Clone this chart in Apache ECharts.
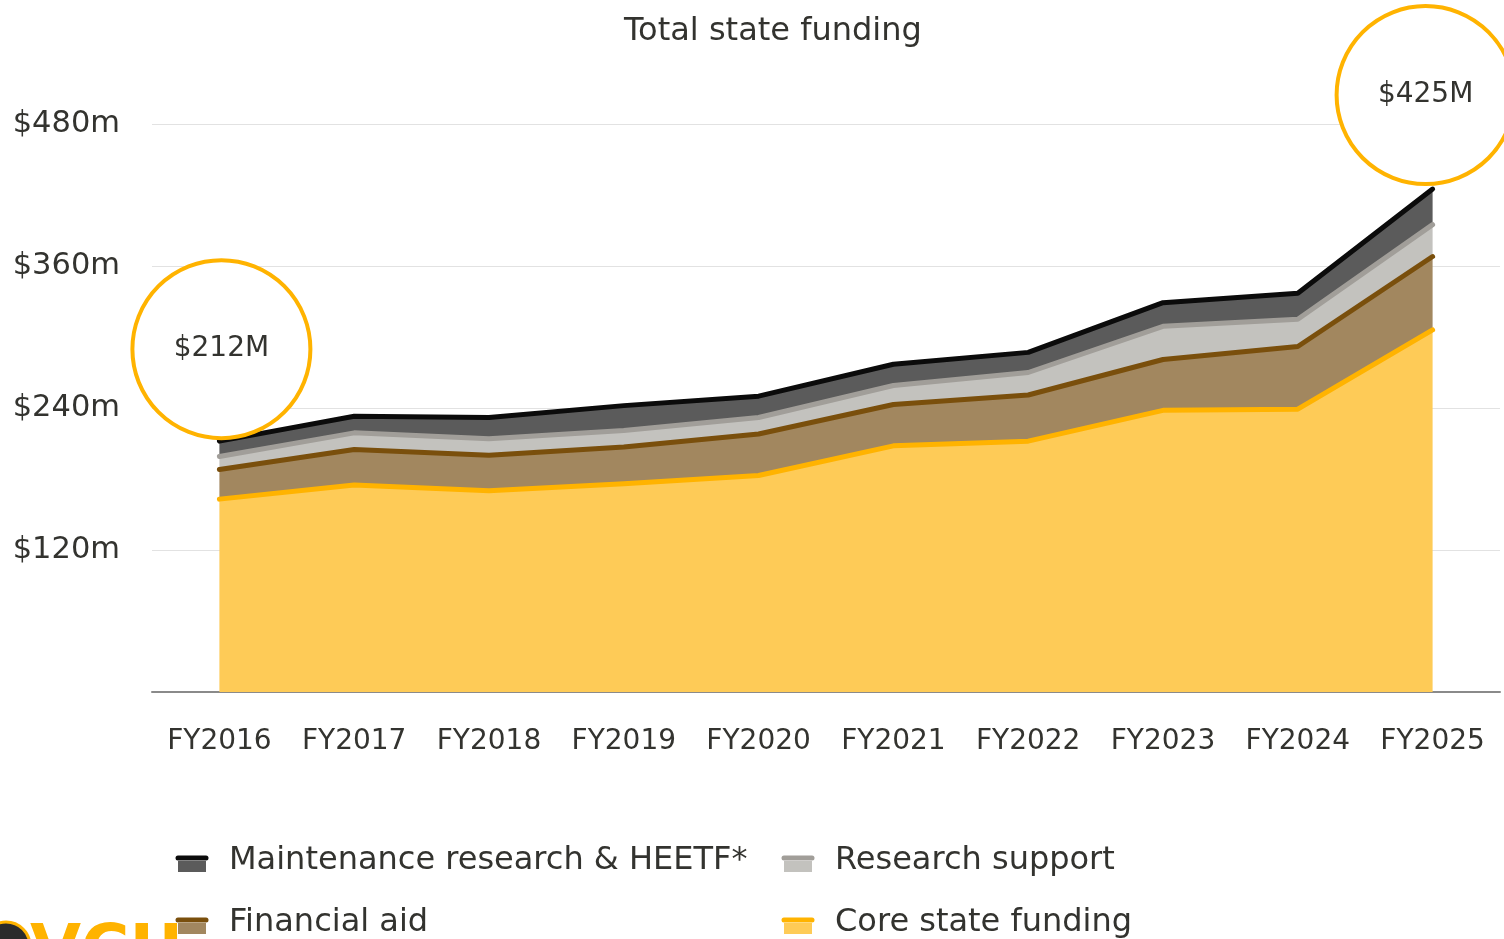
<!DOCTYPE html>
<html>
<head>
<meta charset="utf-8">
<script src="https://cdn.jsdelivr.net/npm/echarts@6/dist/echarts.min.js"></script>
<style>
html,body{margin:0;padding:0;background:#fff;}
#chart{width:1504px;height:939px;}
</style>
</head>
<body>
<div id="chart"></div>
<script>
var categories = ['FY2016','FY2017','FY2018','FY2019','FY2020','FY2021','FY2022','FY2023','FY2024','FY2025'];
var coreFunding = [163, 175, 170, 176, 183, 208, 212, 238, 239, 306];
var financialAid = [25, 30, 30, 31, 35, 35, 39, 43, 53, 62];
var researchSupport = [11, 14, 14, 14, 14, 16, 19, 28, 23, 27];
var maintenance = [13, 14, 18, 21, 18, 18, 17, 20, 22, 30];
var seriesNames = ['Core state funding', 'Financial aid', 'Research support', 'Maintenance research & HEETF*'];
var yTicks = [0, 120, 240, 360, 480];
var callouts = [{idx: 0, label: '$212M'}, {idx: 9, label: '$425M'}];

var lineColors = ['#FFB300', '#7A4F0C', '#A19E99', '#0B0B0B'];
var areaColors = ['#FECB57', '#A2875F', '#C3C2BE', '#5B5B5B'];
var dataSets = [coreFunding, financialAid, researchSupport, maintenance];
var FONT = 'DejaVu Sans';
var TXT = '#33332F';

var totals = categories.map(function(c, i){ return coreFunding[i] + financialAid[i] + researchSupport[i] + maintenance[i]; });

var series = [];
dataSets.forEach(function(d, k){
  series.push({
    name: seriesNames[k], type: 'line', stack: 'area', data: d,
    symbol: 'none', lineStyle: {width: 0}, areaStyle: {color: areaColors[k], opacity: 1},
    z: 2, silent: true
  });
});
dataSets.forEach(function(d, k){
  var s = {
    name: seriesNames[k] + ' line', type: 'line', stack: 'line', data: d,
    symbol: 'none', lineStyle: {width: 5, color: lineColors[k], cap: 'round', join: 'round'},
    z: 3, silent: true
  };
  if (k === 3) {
    s.markPoint = {
      symbol: 'circle', symbolSize: 178, silent: true,
      itemStyle: {color: '#ffffff', borderColor: '#FFB300', borderWidth: 4},
      label: {show: true, position: 'inside', fontFamily: FONT, fontSize: 28, color: TXT, formatter: function(p){ return p.name; }},
      data: callouts.map(function(c, j){
        return {name: c.label, coord: [c.idx, totals[c.idx]], symbolOffset: j === 0 ? [2, -92] : [-7, -94]};
      })
    };
  }
  series.push(s);
});

// legend drawn as graphic elements
var legendItems = [
  {k: 3, x: 176, y: 858}, {k: 2, x: 782, y: 858},
  {k: 1, x: 176, y: 920}, {k: 0, x: 782, y: 920}
];
var graphics = [];
legendItems.forEach(function(it){
  graphics.push({type: 'rect', shape: {x: it.x + 2, y: it.y + 3, width: 28, height: 11}, style: {fill: areaColors[it.k]}});
  graphics.push({type: 'line', shape: {x1: it.x + 2, y1: it.y, x2: it.x + 30, y2: it.y}, style: {stroke: lineColors[it.k], lineWidth: 5, lineCap: 'round'}});
  graphics.push({type: 'text', x: it.x + 53, y: it.y + 3, style: {text: seriesNames[it.k], fontFamily: FONT, fontSize: 32, fill: TXT, verticalAlign: 'middle', align: 'left'}});
});
// partial logo at bottom-left
graphics.push({type: 'circle', shape: {cx: 6, cy: 946, r: 24}, style: {fill: '#2b2b2b', stroke: '#FFB300', lineWidth: 3}});
graphics.push({type: 'text', x: 30, y: 921, style: {text: 'VCU', fontFamily: FONT, fontSize: 66, fontWeight: 'bold', fill: '#FFB300', verticalAlign: 'top'}});

var chart = echarts.init(document.getElementById('chart'), null, {renderer: 'canvas'});
chart.setOption({
  animation: false,
  backgroundColor: '#ffffff',
  title: {text: 'Total state funding', left: 619, top: 11, textStyle: {fontFamily: FONT, fontSize: 32, fontWeight: 'normal', color: TXT}},
  grid: {left: 152, right: 4, top: 124, bottom: 247, containLabel: false},
  xAxis: {
    type: 'category', data: categories, boundaryGap: true,
    axisLine: {lineStyle: {color: '#8A8A8A', width: 2}},
    axisTick: {show: false},
    axisLabel: {fontFamily: FONT, fontSize: 28, color: TXT, margin: 36, interval: 0}
  },
  yAxis: {
    type: 'value', min: yTicks[0], max: yTicks[yTicks.length - 1], interval: yTicks[1] - yTicks[0],
    axisLine: {show: false}, axisTick: {show: false},
    splitLine: {lineStyle: {color: '#E2E2E2', width: 1}},
    axisLabel: {fontFamily: FONT, fontSize: 30.5, color: TXT, margin: 32, formatter: function(v){ return v === 0 ? '' : '$' + v + 'm'; }}
  },
  series: series,
  graphic: graphics
});
</script>
</body>
</html>
